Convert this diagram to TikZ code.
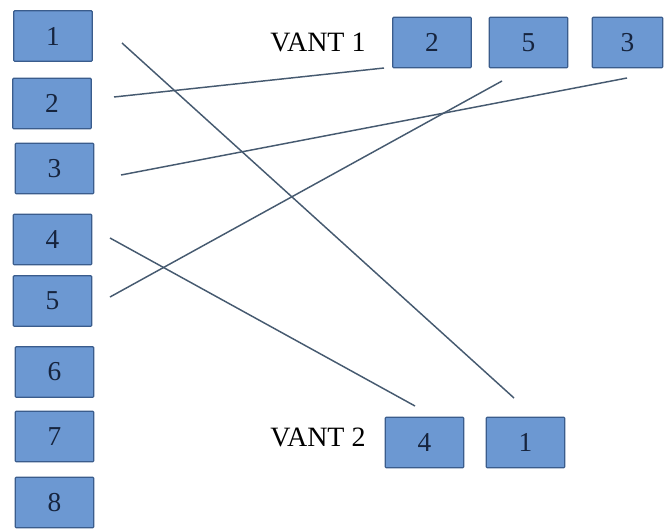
\documentclass[tikz,border=0pt]{standalone}
\usepackage{fontspec}
\setmainfont{Liberation Serif}
\definecolor{boxfill}{RGB}{108,152,210}
\definecolor{boxline}{RGB}{58,92,140}
\definecolor{wire}{RGB}{70,90,112}
\definecolor{digit}{RGB}{22,36,62}
\begin{document}
\begin{tikzpicture}[x=0.75pt,y=-0.75pt,
  cell/.style={draw=boxline,fill=boxfill,line width=0.9pt,rounded corners=0.8pt,
    minimum width=59pt,minimum height=38pt,inner sep=0pt,
    font=\fontsize{20.5}{24}\selectfont,text=digit},
  tag/.style={font=\fontsize{21}{25}\selectfont,text=black,inner sep=0pt},
  wireline/.style={draw=wire,line width=1.1pt}]
\useasboundingbox (0,0) rectangle (664,529);
% left column
\node[cell] (l1) at (53,36) {1};
\node[cell] (l2) at (52,103.5) {2};
\node[cell] (l3) at (54.5,168.5) {3};
\node[cell] (l4) at (52.5,239.5) {4};
\node[cell] (l5) at (52.5,301) {5};
\node[cell] (l6) at (54.5,372) {6};
\node[cell] (l7) at (54.5,436.5) {7};
\node[cell] (l8) at (54.5,502.5) {8};
% first group
\node[tag] (v1) at (318,42) {VANT 1};
\node[cell] (t2) at (432,42.5) {2};
\node[cell] (t5) at (528.5,42.5) {5};
\node[cell,minimum width=53pt] (t3) at (627.5,42.5) {3};
% second group
\node[tag] (v2) at (318,437) {VANT 2};
\node[cell] (b4) at (424.5,442.5) {4};
\node[cell] (b1) at (525.5,442.5) {1};
% free ends of the links
\coordinate (s1) at (122,43);   \coordinate (e1) at (514,398);
\coordinate (s2) at (114,97);   \coordinate (e2) at (384,68);
\coordinate (s3) at (121,175);  \coordinate (e3) at (627,78);
\coordinate (s4) at (110,238);  \coordinate (e4) at (415,406);
\coordinate (s5) at (110,297);  \coordinate (e5) at (502,81);
\draw[wireline] (s1) -- (e1);
\draw[wireline] (s2) -- (e2);
\draw[wireline] (s3) -- (e3);
\draw[wireline] (s4) -- (e4);
\draw[wireline] (s5) -- (e5);
\end{tikzpicture}
\end{document}
